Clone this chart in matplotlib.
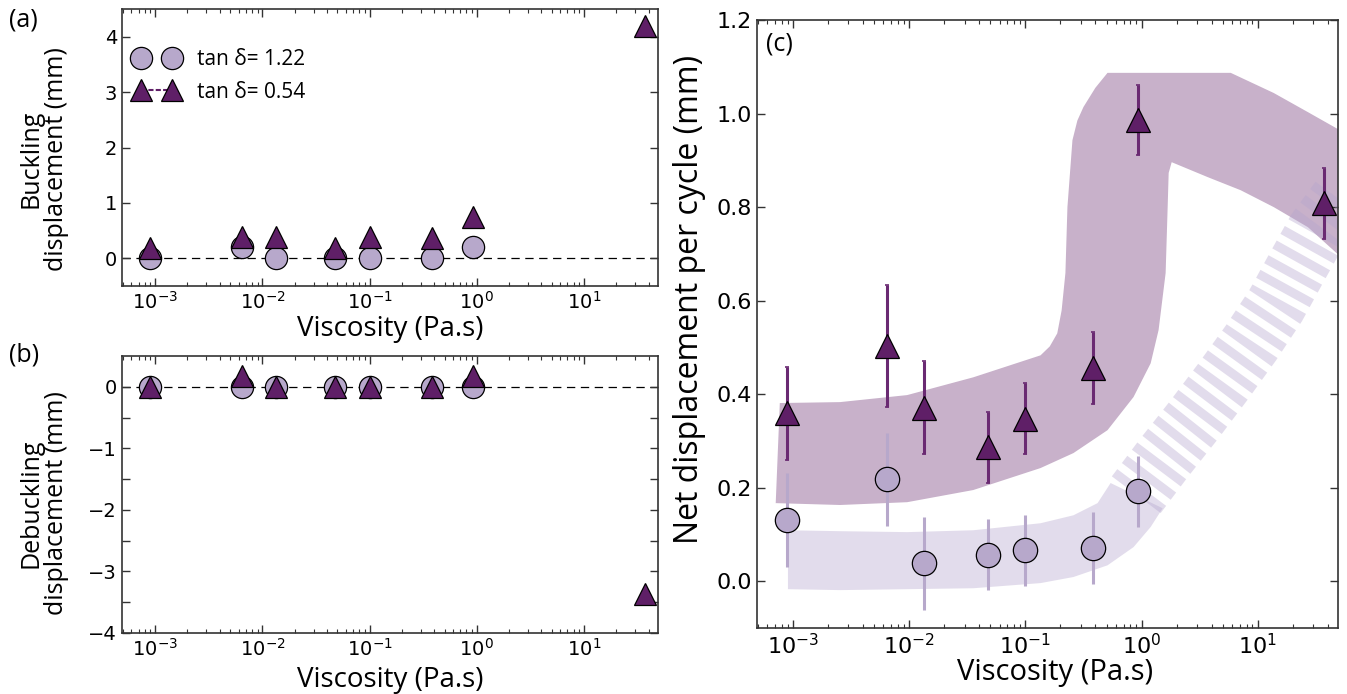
import numpy as np
import matplotlib
matplotlib.use("Agg")
import matplotlib.pyplot as plt
from matplotlib.lines import Line2D

plt.rcParams['lines.scale_dashes'] = False
plt.rcParams['mathtext.fontset'] = 'dejavusans'

# viscosities of the tested fluids (Pa.s)
visc_122 = [8.9e-4, 6.4e-3, 1.33e-2, 4.8e-2, 0.1, 0.38, 0.93]
visc_054 = [8.9e-4, 6.4e-3, 1.33e-2, 4.8e-2, 0.1, 0.38, 0.93, 37]

# (a) buckling displacement (mm)
buck_122 = [0.0, 0.2, 0.0, 0.0, 0.0, 0.0, 0.2]
buck_054 = [0.19, 0.38, 0.38, 0.19, 0.38, 0.37, 0.75, 4.2]

# (b) debuckling displacement (mm)
debuck_122 = [0.0, 0.0, 0.0, 0.0, 0.0, 0.0, 0.0]
debuck_054 = [0.0, 0.17, 0.0, 0.0, 0.0, 0.0, 0.17, -3.36]

# (c) net displacement per cycle (mm) and error bars
net_122 = [0.131, 0.218, 0.038, 0.057, 0.066, 0.071, 0.192]
err_122 = [0.10, 0.10, 0.10, 0.076, 0.076, 0.076, 0.076]
net_054 = [0.359, 0.503, 0.371, 0.286, 0.347, 0.456, 0.986, 0.808]
err_054 = [0.10, 0.13, 0.10, 0.075, 0.076, 0.077, 0.075, 0.076]

# guide-to-the-eye bands in (c): outer and inner edges
upper_top_x = [7.7e-4, 2.54e-3, 9.6e-3, 0.0356, 0.135, 0.162, 0.188, 0.205, 0.221, 0.230, 0.254,
               0.280, 0.316, 0.40, 0.509, 5.85, 13.7, 27.0, 52.0]
upper_top_y = [0.381, 0.383, 0.398, 0.436, 0.483, 0.502, 0.530, 0.579, 0.659, 0.800, 0.943,
               0.985, 1.014, 1.055, 1.087, 1.087, 1.044, 1.003, 0.963]
upper_bot_x = [7.1e-4, 2.54e-3, 9.6e-3, 0.0356, 0.135, 0.259, 0.509, 0.853, 1.197, 1.40, 1.61,
               1.676, 1.71, 1.815, 3.71, 7.13, 13.7, 27.0, 52.0]
upper_bot_y = [0.167, 0.163, 0.169, 0.195, 0.242, 0.274, 0.323, 0.394, 0.466, 0.537, 0.659,
               0.800, 0.873, 0.896, 0.864, 0.836, 0.800, 0.757, 0.693]

lower_top_x = [9.05e-4, 2.54e-3, 9.6e-3, 0.0356, 0.135, 0.259, 0.418, 0.541, 1.517]
lower_top_y = [0.109, 0.107, 0.105, 0.109, 0.124, 0.141, 0.167, 0.210, 0.156]
lower_bot_x = [9.05e-4, 2.54e-3, 9.6e-3, 0.0356, 0.135, 0.259, 0.509, 0.853, 1.197, 1.517]
lower_bot_y = [-0.017, -0.019, -0.017, -0.015, -0.004, 0.009, 0.034, 0.073, 0.116, 0.156]

stripe_x = [0.90, 1.55, 2.81, 4.99, 8.7, 14.3, 21.5, 32.0, 55.0]
stripe_y = [0.185, 0.263, 0.344, 0.426, 0.509, 0.590, 0.670, 0.747, 0.826]

dark = '#5f1f67'
light = '#b7a8cb'
label_font = 'Open Sans'

fig = plt.figure(figsize=(13.47, 6.94), dpi=100)
W, H = 1347.0, 694.0
ax_a = fig.add_axes([122 / W, 1 - 286 / H, 536 / W, 277 / H])
ax_b = fig.add_axes([122 / W, 1 - 633 / H, 536 / W, 277 / H])
ax_c = fig.add_axes([757 / W, 1 - 628 / H, 581 / W, 608 / H])


def style_axis(ax, tick_size):
    ax.set_xscale('log')
    ax.set_xlim(4.9e-4, 49)
    ax.tick_params(which='both', direction='in', top=True, right=True,
                   labelsize=tick_size, color='#333333')
    ax.tick_params(which='major', length=6, width=1)
    ax.tick_params(which='minor', length=3, width=0.8)
    for s in ax.spines.values():
        s.set_color('#333333')
        s.set_linewidth(1.2)


# (a) buckling
ax = ax_a
style_axis(ax, 14)
ax.axhline(0, color='black', ls=(0, (6, 4)), lw=0.9, zorder=1)
ax.plot(visc_122, buck_122, 'o', ms=16, mfc=light, mec='black', mew=0.9, zorder=3)
ax.plot(visc_054, buck_054, '^', ms=16, mfc=dark, mec='black', mew=0.9, zorder=4)
ax.set_ylim(-0.5, 4.5)
ax.set_yticks([0, 1, 2, 3, 4])
ax.set_ylabel('Buckling\ndisplacement (mm)', fontsize=18, family=label_font, linespacing=1.05)
ax.yaxis.set_label_coords(-0.098, 0.46)
ax.set_xlabel('Viscosity (Pa.s)', fontsize=20, family=label_font)
ax.xaxis.set_label_coords(0.5, -0.105)

handles = [Line2D([], [], marker='o', ls='none', ms=16, mfc=light, mec='black', mew=0.9),
           Line2D([], [], marker='^', ls='--', color=dark, lw=1.5, ms=16, mfc=dark, mec='black', mew=0.9)]
ax.legend(handles, ['tan δ= 1.22', 'tan δ= 0.54'], loc='upper left', bbox_to_anchor=(0.0, 0.9),
          numpoints=2, frameon=False, handlelength=2.1, handletextpad=0.9, labelspacing=0.55,
          borderaxespad=0.2, prop={'family': label_font, 'size': 15})

# (b) debuckling
ax = ax_b
style_axis(ax, 14)
ax.axhline(0, color='black', ls=(0, (6, 4)), lw=0.9, zorder=1)
ax.plot(visc_122, debuck_122, 'o', ms=16, mfc=light, mec='black', mew=0.9, zorder=3)
ax.plot(visc_054, debuck_054, '^', ms=16, mfc=dark, mec='black', mew=0.9, zorder=4)
ax.set_ylim(-4, 0.5)
ax.set_yticks([-4, -3, -2, -1, 0])
ax.set_yticks(np.arange(-3.5, 0.5, 1.0), minor=True)
ax.tick_params(axis='y', which='minor', length=6, width=1)
ax.set_ylabel('Debuckling\ndisplacement (mm)', fontsize=18, family=label_font, linespacing=1.05)
ax.yaxis.set_label_coords(-0.098, 0.47)
ax.set_xlabel('Viscosity (Pa.s)', fontsize=20, family=label_font)
ax.xaxis.set_label_coords(0.5, -0.12)

# (c) net displacement per cycle
ax = ax_c
style_axis(ax, 16)
ax.fill(upper_top_x + upper_bot_x[::-1], upper_top_y + upper_bot_y[::-1],
        color='#6a2c70', alpha=0.37, lw=0, zorder=1)
ax.fill(lower_top_x + lower_bot_x[::-1], lower_top_y + lower_bot_y[::-1],
        color='#b4a5cd', alpha=0.38, lw=0, zorder=1)
ax.plot(stripe_x, stripe_y, color='#b4a5cd', alpha=0.38, lw=44,
        ls=(0, (6.5, 5.5)), dash_capstyle='butt', solid_capstyle='butt', zorder=2)
ax.errorbar(visc_122, net_122, yerr=err_122, fmt='none', ecolor=light, elinewidth=2.2,
            capsize=0, zorder=3)
ax.errorbar(visc_054, net_054, yerr=err_054, fmt='none', ecolor='#6a2a72', elinewidth=2.2,
            capsize=1.5, capthick=1.2, zorder=3)
ax.plot(visc_122, net_122, 'o', ms=17.5, mfc=light, mec='black', mew=0.9, zorder=4)
ax.plot(visc_054, net_054, '^', ms=17.5, mfc=dark, mec='black', mew=0.9, zorder=5)
ax.set_ylim(-0.1, 1.2)
ax.set_yticks(np.arange(0, 1.21, 0.2))
ax.set_yticklabels(['0.0', '0.2', '0.4', '0.6', '0.8', '1.0', '1.2'])
ax.set_ylabel('Net displacement per cycle (mm)', fontsize=23, family=label_font)
ax.yaxis.set_label_coords(-0.088, 0.54)
ax.set_xlabel('Viscosity (Pa.s)', fontsize=21, family=label_font)
ax.xaxis.set_label_coords(0.513, -0.05)
ax.text(0.015, 0.96, '(c)', transform=ax.transAxes, fontsize=18, family=label_font,
        va='center', ha='left')

fig.text(0.007, 0.971, '(a)', fontsize=18, family=label_font, va='center', ha='left')
fig.text(0.007, 0.488, '(b)', fontsize=18, family=label_font, va='center', ha='left')

fig.savefig('out.png', dpi=100)
